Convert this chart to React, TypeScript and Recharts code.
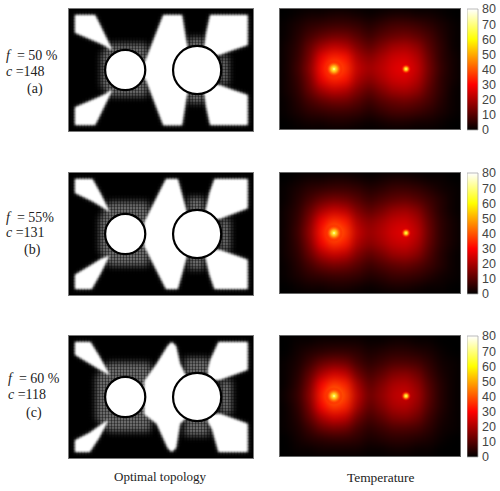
import { Area, Bar, ComposedChart, Scatter, ScatterChart, XAxis, YAxis } from "recharts";

type Band = [number, number, number]; // x, lower edge, upper edge

// topology regions (panel units 550 x 366, y downwards)
const whiteA: Band[][] = [
  [[18, 18, 71], [50, 18, 85], [78, 18, 97], [90, 42, 102], [110, 83, 112], [125, 113, 123], [128, 118, 120]],
  [[18, 295, 348], [50, 281, 348], [78, 269, 348], [90, 264, 324], [110, 254, 283], [125, 243, 253], [128, 246, 248]],
  [[225, 163, 208], [230, 151, 213], [282, 18, 349], [338, 18, 349], [350, 93, 273], [358, 128, 238]],
  [[404, 113, 123], [410, 73, 138], [422, 18, 138], [450, 18, 138], [490, 18, 123], [534, 18, 108]],
  [[404, 243, 253], [410, 228, 293], [422, 228, 348], [450, 228, 348], [490, 243, 348], [534, 258, 348]],
];
const grayA: Band[][] = [
  [[95, 135, 231], [125, 103, 263], [230, 103, 263], [235, 115, 251]],
  [[355, 85, 150], [405, 85, 150]],
  [[355, 216, 283], [405, 216, 283]],
  [[450, 140, 226], [478, 140, 226]],
];
const whiteB: Band[][] = [
  [[18, 18, 60], [70, 18, 85], [95, 63, 100], [120, 113, 116]],
  [[18, 305, 348], [68, 275, 348], [95, 258, 300], [120, 248, 250]],
  [[225, 148, 220], [290, 18, 348], [325, 18, 348], [340, 73, 295], [358, 138, 230]],
  [[408, 113, 125], [420, 60, 135], [435, 18, 138], [450, 18, 138], [534, 18, 106]],
  [[408, 250, 255], [420, 232, 305], [435, 230, 348], [450, 230, 348], [534, 260, 348]],
];
const grayB: Band[][] = [
  [[90, 137, 233], [120, 85, 280], [235, 85, 280], [240, 105, 260]],
  [[355, 72, 150], [405, 72, 150]],
  [[355, 220, 290], [405, 220, 290]],
  [[450, 137, 233], [483, 137, 233]],
];
const whiteC: Band[][] = [
  [[18, 18, 56], [64, 18, 84], [90, 60, 100], [120, 113, 117]],
  [[18, 313, 348], [62, 290, 348], [90, 270, 305], [115, 253, 258]],
  [[225, 135, 235], [262, 83, 263], [295, 30, 336], [307, 18, 348], [320, 30, 336], [332, 83, 263], [350, 120, 246]],
  [[415, 100, 128], [422, 73, 132], [447, 18, 132], [452, 18, 131], [534, 18, 101]],
  [[415, 238, 258], [427, 235, 278], [447, 233, 348], [452, 233, 348], [534, 263, 348]],
];
const grayC: Band[][] = [
  [[80, 122, 248], [118, 78, 288], [240, 78, 288], [246, 95, 275]],
  [[345, 65, 155], [420, 65, 155]],
  [[345, 215, 300], [420, 215, 300]],
  [[450, 132, 233], [488, 132, 233]],
];
const fullPanel: Band[][] = [[[0, 0, 366], [550, 0, 366]]];
const holes = [
  { x: 168, y: 183, r: 60 },
  { x: 383, y: 183, r: 72 },
];

// temperature, 15 columns x 11 rows
const heatA = [
  [0, 1, 2, 2, 3, 3, 2, 1, 2, 3, 3, 2, 2, 1, 0],
  [1, 3, 5, 6, 7, 7, 6, 4, 6, 8, 8, 7, 5, 3, 1],
  [1, 4, 8, 11, 13, 13, 10, 7, 10, 12, 13, 11, 8, 4, 1],
  [2, 5, 12, 19, 23, 21, 15, 11, 15, 19, 20, 17, 10, 5, 1],
  [2, 6, 14, 28, 34, 32, 20, 16, 20, 24, 25, 21, 12, 5, 2],
  [2, 7, 16, 31, 44, 36, 23, 19, 22, 26, 28, 23, 13, 6, 2],
  [2, 6, 14, 28, 34, 32, 20, 16, 20, 24, 25, 21, 12, 5, 2],
  [2, 5, 12, 19, 23, 21, 15, 11, 15, 19, 20, 17, 10, 5, 1],
  [1, 4, 8, 11, 13, 13, 10, 7, 10, 12, 13, 11, 8, 4, 1],
  [1, 3, 5, 6, 7, 7, 6, 4, 6, 8, 8, 7, 5, 3, 1],
  [0, 1, 2, 2, 3, 3, 2, 1, 2, 3, 3, 2, 2, 1, 0],
];
const heatB = [
  [0, 1, 2, 2, 3, 3, 2, 1, 2, 3, 3, 2, 1, 1, 0],
  [1, 3, 5, 6, 7, 7, 6, 4, 5, 7, 7, 6, 4, 2, 1],
  [1, 4, 8, 12, 14, 13, 10, 7, 9, 11, 12, 10, 7, 4, 1],
  [2, 5, 12, 20, 24, 22, 15, 11, 14, 18, 19, 16, 9, 4, 1],
  [2, 6, 15, 29, 36, 33, 20, 16, 19, 23, 24, 20, 11, 5, 2],
  [2, 7, 17, 32, 46, 37, 23, 18, 21, 25, 27, 22, 12, 5, 2],
  [2, 6, 15, 29, 36, 33, 20, 16, 19, 23, 24, 20, 11, 5, 2],
  [2, 5, 12, 20, 24, 22, 15, 11, 14, 18, 19, 16, 9, 4, 1],
  [1, 4, 8, 12, 14, 13, 10, 7, 9, 11, 12, 10, 7, 4, 1],
  [1, 3, 5, 6, 7, 7, 6, 4, 5, 7, 7, 6, 4, 2, 1],
  [0, 1, 2, 2, 3, 3, 2, 1, 2, 3, 3, 2, 1, 1, 0],
];
const heatC = [
  [0, 1, 1, 2, 2, 2, 2, 1, 1, 2, 2, 1, 1, 0, 0],
  [0, 2, 4, 5, 6, 6, 5, 3, 4, 5, 5, 4, 3, 1, 0],
  [1, 3, 7, 12, 14, 13, 8, 5, 7, 9, 9, 8, 5, 2, 1],
  [1, 4, 11, 20, 25, 23, 13, 8, 11, 15, 16, 13, 7, 3, 1],
  [1, 5, 14, 30, 37, 34, 19, 11, 15, 20, 21, 17, 9, 4, 1],
  [2, 6, 16, 33, 47, 38, 22, 13, 17, 22, 24, 19, 10, 4, 1],
  [1, 5, 14, 30, 37, 34, 19, 11, 15, 20, 21, 17, 9, 4, 1],
  [1, 4, 11, 20, 25, 23, 13, 8, 11, 15, 16, 13, 7, 3, 1],
  [1, 3, 7, 12, 14, 13, 8, 5, 7, 9, 9, 8, 5, 2, 1],
  [0, 2, 4, 5, 6, 6, 5, 3, 4, 5, 5, 4, 3, 1, 0],
  [0, 1, 1, 2, 2, 2, 2, 1, 1, 2, 2, 1, 1, 0, 0],
];
const hotSpots = [
  { x: 4.5, y: 5.5, r: 9 },
  { x: 10.5, y: 5.5, r: 5 },
];
const barTicks = [0, 10, 20, 30, 40, 50, 60, 70, 80];
const barValues = [{ name: "T", top: 80 }];

const TOPO_W = 184;
const TOPO_H = 122;
const HEAT_W = 180;
const HEAT_H = 120;
const SERIF = "'Liberation Serif', serif";

// MATLAB style "hot" colormap on 0-80
function hot(v: number) {
  const t = Math.min(v / 80, 1);
  const r = Math.min(t / 0.375, 1);
  const g = Math.max(Math.min((t - 0.375) / 0.375, 1), 0);
  const b = Math.max((t - 0.75) / 0.25, 0);
  return `rgb(${Math.round(r * 255)},${Math.round(g * 255)},${Math.round(b * 255)})`;
}

const toRows = (b: Band[]) => b.map(([x, lo, hi]) => ({ x, band: [lo, hi] }));

function BandLayer({ bands, fill, blur, defs }: { bands: Band[][]; fill: string; blur: number; defs?: any }) {
  return (
    <div style={{ position: "absolute", left: 0, top: 0, filter: `blur(${blur}px)` }}>
      <ComposedChart width={TOPO_W} height={TOPO_H} margin={{ top: 0, right: 0, bottom: 0, left: 0 }}>
        {defs}
        <XAxis dataKey="x" type="number" domain={[0, 550]} hide allowDataOverflow />
        <YAxis type="number" domain={[0, 366]} reversed hide allowDataOverflow />
        {bands.map((b, i) => (
          <Area key={i} data={toRows(b)} dataKey="band" type="linear" fill={fill} fillOpacity={1} stroke="none" dot={false} activeDot={false} isAnimationActive={false} />
        ))}
      </ComposedChart>
    </div>
  );
}

function Topology({ top, white, gray, idx }: { top: number; white: Band[][]; gray: Band[][]; idx: string }) {
  // black lines over everything: only show up where the gray halo is
  const mesh = (
    <defs>
      <pattern id={`mesh${idx}`} width="3" height="3" patternUnits="userSpaceOnUse">
        <rect width="1" height="3" fill="#000" fillOpacity={0.4} />
        <rect width="3" height="1" fill="#000" fillOpacity={0.3} />
      </pattern>
    </defs>
  );
  return (
    <div style={{ position: "absolute", left: 69, top, width: TOPO_W, height: TOPO_H, background: "#000", outline: "1px solid #777", overflow: "hidden" }}>
      <BandLayer bands={gray} fill="#6a6a6a" blur={3} />
      <BandLayer bands={white} fill="#808080" blur={2} />
      <BandLayer bands={fullPanel} fill={`url(#mesh${idx})`} blur={0.4} defs={mesh} />
      <BandLayer bands={white} fill="#fff" blur={0.8} />
      <div style={{ position: "absolute", left: 0, top: 0, filter: "blur(0.4px)" }}>
        <ComposedChart width={TOPO_W} height={TOPO_H} margin={{ top: 0, right: 0, bottom: 0, left: 0 }}>
          <XAxis dataKey="x" type="number" domain={[0, 550]} hide />
          <YAxis dataKey="y" type="number" domain={[0, 366]} reversed hide />
          <Scatter
            data={holes}
            isAnimationActive={false}
            shape={(p: any) => <circle cx={p.cx} cy={p.cy} r={(p.payload.r * TOPO_W) / 550} fill="#fff" stroke="#000" strokeWidth={2.2} />}
          />
        </ComposedChart>
      </div>
    </div>
  );
}

function Heat({ top, rows, idx }: { top: number; rows: number[][]; idx: string }) {
  const cells = rows.flatMap((row, j) => row.map((v, i) => ({ x: i + 0.5, y: j + 0.5, v })));
  const cw = HEAT_W / 15 + 1;
  const ch = HEAT_H / 11 + 1;
  return (
    <div style={{ position: "absolute", left: 280, top, width: HEAT_W, height: HEAT_H, background: "#000", overflow: "hidden", outline: "1px solid #666" }}>
      <div style={{ position: "absolute", left: 0, top: 0, filter: "blur(5px)" }}>
        <ScatterChart width={HEAT_W} height={HEAT_H} margin={{ top: 0, right: 0, bottom: 0, left: 0 }}>
          <XAxis dataKey="x" type="number" domain={[0, 15]} hide />
          <YAxis dataKey="y" type="number" domain={[0, 11]} reversed hide />
          <Scatter
            data={cells}
            isAnimationActive={false}
            shape={(p: any) => <rect x={p.cx - cw / 2} y={p.cy - ch / 2} width={cw} height={ch} fill={hot(p.payload.v)} />}
          />
        </ScatterChart>
      </div>
      <div style={{ position: "absolute", left: 0, top: 0 }}>
        <ScatterChart width={HEAT_W} height={HEAT_H} margin={{ top: 0, right: 0, bottom: 0, left: 0 }}>
          <defs>
            <radialGradient id={`spot${idx}`}>
              <stop offset="0" stopColor="#ffffd0" />
              <stop offset="0.14" stopColor="#ffee33" />
              <stop offset="0.4" stopColor="#ff9a10" />
              <stop offset="0.75" stopColor="#ff2800" stopOpacity={0.5} />
              <stop offset="1" stopColor="#ff0000" stopOpacity={0} />
            </radialGradient>
          </defs>
          <XAxis dataKey="x" type="number" domain={[0, 15]} hide />
          <YAxis dataKey="y" type="number" domain={[0, 11]} reversed hide />
          <Scatter
            data={hotSpots}
            isAnimationActive={false}
            shape={(p: any) => <circle cx={p.cx} cy={p.cy} r={p.payload.r} fill={`url(#spot${idx})`} />}
          />
        </ScatterChart>
      </div>
    </div>
  );
}

function ColorBar({ top, idx }: { top: number; idx: string }) {
  return (
    <div style={{ position: "absolute", left: 467, top: top - 8, width: 33, height: 137 }}>
      <ComposedChart width={33} height={137} data={barValues} margin={{ top: 8, right: 0, bottom: 8, left: 0 }} barCategoryGap={0}>
        <defs>
          <linearGradient id={`hotbar${idx}`} x1="0" y1="1" x2="0" y2="0">
            <stop offset="0" stopColor="#000" />
            <stop offset="0.375" stopColor="#ff0000" />
            <stop offset="0.75" stopColor="#ffff00" />
            <stop offset="1" stopColor="#ffffff" />
          </linearGradient>
        </defs>
        <XAxis dataKey="name" hide />
        <YAxis
          orientation="right"
          domain={[0, 80]}
          ticks={barTicks}
          width={22}
          axisLine={false}
          tickLine={false}
          tickSize={0}
          interval={0}
          tickMargin={4}
          tick={{ fill: "#444", fontSize: 12.5, fontFamily: "'Liberation Sans', Arial, sans-serif", textAnchor: "start" }}
        />
        <Bar dataKey="top" fill={`url(#hotbar${idx})`} stroke="#aaa" strokeWidth={0.8} isAnimationActive={false} />
      </ComposedChart>
    </div>
  );
}

function Note({ x, y, size = 14, children }: { x: number; y: number; size?: number; children: any }) {
  return (
    <div style={{ position: "absolute", left: x, top: y - 9, lineHeight: "18px", fontFamily: SERIF, fontSize: size, color: "#222", whiteSpace: "pre" }}>
      {children}
    </div>
  );
}

export default function App() {
  return (
    <div style={{ position: "absolute", left: 0, top: 0, width: 500, height: 491, background: "#fff", overflow: "hidden" }}>
      <Topology top={9} white={whiteA} gray={grayA} idx="a" />
      <Topology top={173} white={whiteB} gray={grayB} idx="b" />
      <Topology top={336} white={whiteC} gray={grayC} idx="c" />

      <Heat top={9} rows={heatA} idx="a" />
      <Heat top={173} rows={heatB} idx="b" />
      <Heat top={336} rows={heatC} idx="c" />

      <ColorBar top={9} idx="a" />
      <ColorBar top={173} idx="b" />
      <ColorBar top={336} idx="c" />

      <Note x={6} y={56}><i>f</i>  = 50 %</Note>
      <Note x={6} y={72}><i>c</i> =148</Note>
      <Note x={27} y={89}>(a)</Note>
      <Note x={6} y={218}><i>f</i>  = 55%</Note>
      <Note x={6} y={233}><i>c</i> =131</Note>
      <Note x={24} y={250}>(b)</Note>
      <Note x={8} y={379}><i>f</i>  = 60 %</Note>
      <Note x={8} y={395}><i>c</i> =118</Note>
      <Note x={26} y={413}>(c)</Note>
      <Note x={114} y={477} size={13}>Optimal topology</Note>
      <Note x={347} y={478} size={13.4}>Temperature</Note>
    </div>
  );
}
